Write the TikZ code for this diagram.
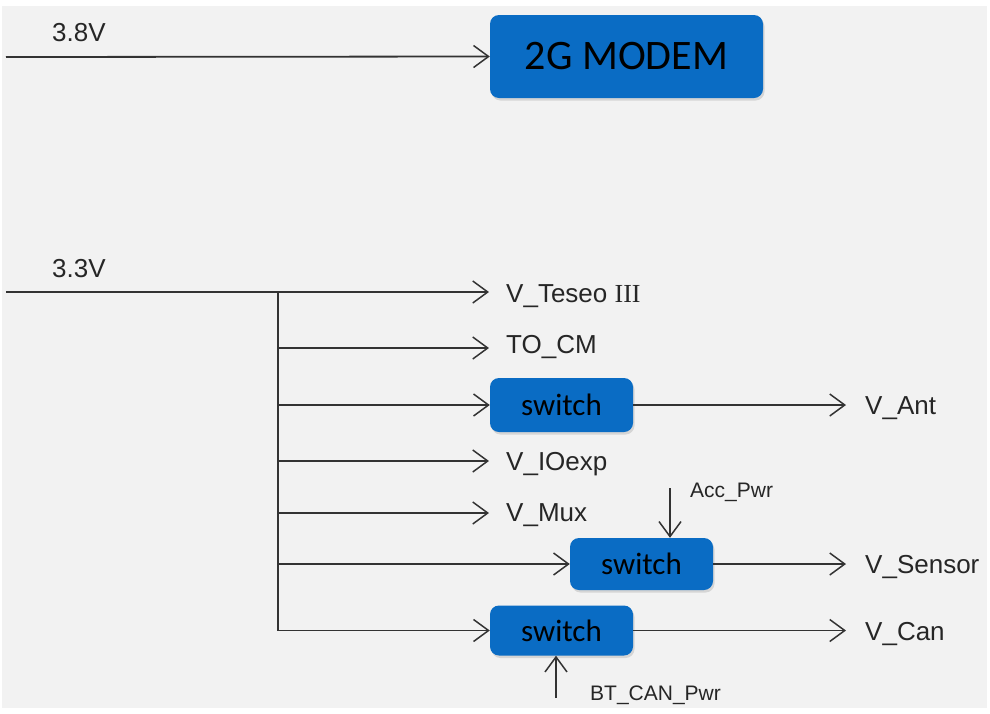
\documentclass[tikz,border=0pt]{standalone}
\usepackage{fontspec}
\setmainfont{Liberation Sans}
\newfontfamily\carlitofont{Carlito}
\newfontfamily\serifrm{Liberation Serif}
\usetikzlibrary{arrows.meta,shadows}
\definecolor{bg}{HTML}{F2F2F2}
\definecolor{boxblue}{HTML}{0A6CC4}
\definecolor{wirecol}{HTML}{333333}
\definecolor{txt}{HTML}{262626}
\begin{document}
\begin{tikzpicture}[x=1pt,y=-1pt,
  wire/.style={draw=wirecol,line width=1.8pt},
  arr/.style={wire,-{Straight Barb[length=15pt,width=22pt,line width=1.5pt]}},
  bluebox/.style={draw=none,fill=boxblue,rounded corners=9pt,inner sep=0pt,
    drop shadow={shadow xshift=1.5pt,shadow yshift=-2.5pt,opacity=0.25}},
  modembox/.style={bluebox,minimum width=273pt,minimum height=83pt,font=\carlitofont\fontsize{42}{42}\selectfont},
  switchbox/.style={bluebox,minimum width=143pt,minimum height=52pt,font=\carlitofont\fontsize{31}{31}\selectfont},
  lbl/.style={anchor=base west,inner sep=0pt,font=\fontsize{26}{26}\selectfont,text=txt},
  small/.style={anchor=base west,inner sep=0pt,font=\fontsize{21}{21}\selectfont,text=txt}]
\useasboundingbox (0,0) rectangle (990,713);
\fill[white] (0,0) rectangle (990,713);
\fill[bg] (2,6) rectangle (987,708);

% boxes
\node[modembox] (modem) at (626.5,56.5) {2G MODEM};
\node[switchbox,minimum height=54pt] (sw1) at (561.5,405) {switch};
\node[switchbox] (sw2) at (641.5,564) {switch};
\node[switchbox,minimum height=50pt] (sw3) at (561.5,630.5) {switch};

% labels
\node[lbl] (l38) at (52,41) {3.8V};
\node[lbl] (l33) at (52,277) {3.3V};
\node[lbl] (teseo) at (506,302) {V\_Teseo {\serifrm III}};
\node[lbl] (tocm) at (506,353) {TO\_CM};
\node[lbl] (ioexp) at (506,470) {V\_IOexp};
\node[lbl] (mux) at (506,521) {V\_Mux};
\node[lbl] (ant) at (865,414) {V\_Ant};
\node[lbl] (sensor) at (865,573) {V\_Sensor};
\node[lbl] (can) at (865,640) {V\_Can};
\node[small] (acc) at (690,497) {Acc\_Pwr};
\node[small] (btcan) at (590,700) {BT\_CAN\_Pwr};

% coordinates
\coordinate (in38) at (6,57);
\coordinate (in33) at (6,292);
\coordinate (bus0) at (278,292);
\coordinate (busend) at (278,630.5);
\coordinate (tTeseo) at (489,292);
\coordinate (bTocm) at (278,348);
\coordinate (tTocm) at (489,348);
\coordinate (bSw1) at (278,405);
\coordinate (bIo) at (278,461);
\coordinate (tIo) at (489,461);
\coordinate (bMux) at (278,513);
\coordinate (tMux) at (489,513);
\coordinate (bSw2) at (278,564);
\coordinate (tAnt) at (846,405);
\coordinate (tSensor) at (846,564);
\coordinate (tCan) at (846,630.5);
\coordinate (accTop) at (670,488);
\coordinate (btBot) at (556,698);

% connectors
\draw[arr] (in38) -- (modem.west);
\draw[arr] (in33) -- (tTeseo);
\draw[arr] (bus0) -- (busend) -- (sw3.west);
\draw[arr] (bTocm) -- (tTocm);
\draw[arr] (bSw1) -- (sw1.west);
\draw[arr] (bIo) -- (tIo);
\draw[arr] (bMux) -- (tMux);
\draw[arr] (bSw2) -- (sw2.west);
\draw[arr] (sw1.east) -- (tAnt);
\draw[arr] (sw2.east) -- (tSensor);
\draw[arr] (sw3.east) -- (tCan);
\draw[arr] (accTop) -- (sw2.north -| accTop);
\draw[arr] (btBot) -- (sw3.south -| btBot);
\end{tikzpicture}
\end{document}
